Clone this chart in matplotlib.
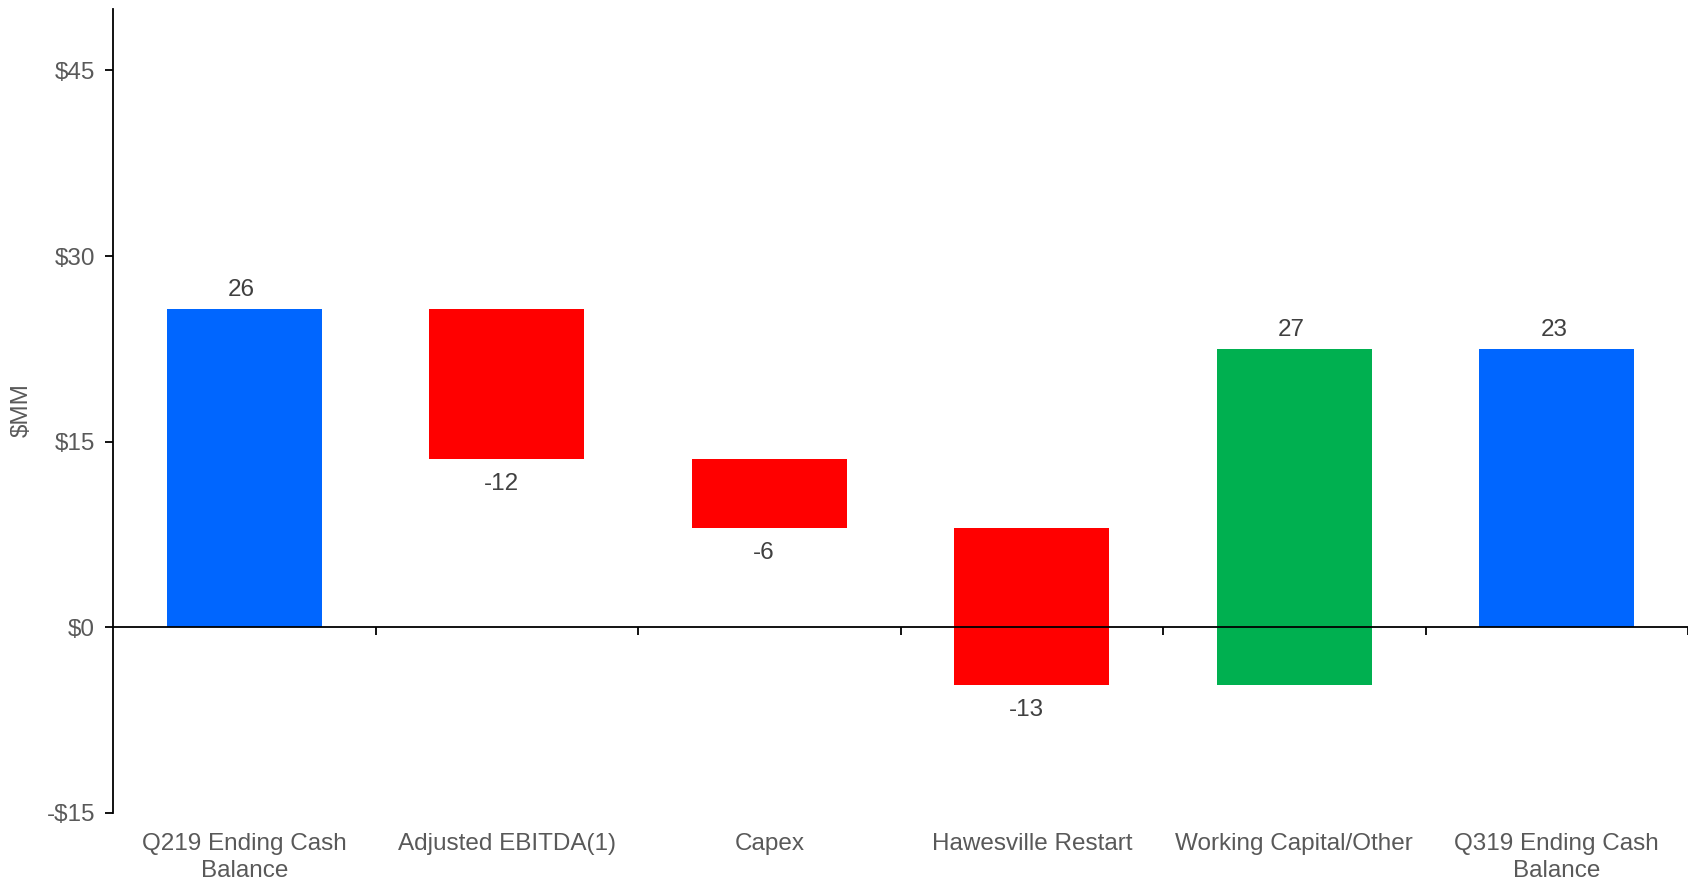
import matplotlib
matplotlib.use("Agg")
import matplotlib.pyplot as plt
import numpy as np

plt.rcParams['font.family'] = ['Liberation Sans', 'DejaVu Sans']

categories = ["Q219 Ending Cash\nBalance", "Adjusted EBITDA(1)", "Capex",
              "Hawesville Restart", "Working Capital/Other", "Q319 Ending Cash\nBalance"]
values = [25.7, -12.1, -5.6, -12.7, 27.2, 22.5]
kinds = ["total", "delta", "delta", "delta", "delta", "total"]
value_labels = ["26", "-12", "-6", "-13", "27", "23"]
yticks = [-15, 0, 15, 30, 45]
ytick_labels = ["-$15", "$0", "$15", "$30", "$45"]

BLUE = "#0066FF"
RED = "#FF0000"
GREEN = "#00B050"
GRAY = "#595959"
DARK = "#404040"
FS = 17.5

fig = plt.figure(figsize=(16.88, 8.82), dpi=100)
ax = fig.add_axes([113/1688, 1 - 812.8/882, 1 - 113/1688, (812.8 - 8.6)/882])

x = np.arange(len(categories))
bottoms, heights, colors = [], [], []
running = 0.0
for v, k in zip(values, kinds):
    if k == "total":
        bottoms.append(0.0)
        heights.append(v)
        colors.append(BLUE)
        running = v
    else:
        bottoms.append(running if v >= 0 else running + v)
        heights.append(abs(v))
        colors.append(GREEN if v >= 0 else RED)
        running += v

ax.bar(x, heights, bottom=bottoms, width=0.59, color=colors, zorder=1)

for i, (v, k, lab) in enumerate(zip(values, kinds, value_labels)):
    top = bottoms[i] + heights[i]
    if k == "total" or v >= 0:
        ax.annotate(lab, xy=(x[i], top), xytext=(-2, 6), textcoords="offset points",
                    ha="center", va="bottom", fontsize=FS, color=DARK)
    else:
        ax.annotate(lab, xy=(x[i], bottoms[i]), xytext=(-4, -10), textcoords="offset points",
                    ha="center", va="top", fontsize=FS, color=DARK)

for i, c in enumerate(categories):
    ax.annotate(c, xy=(x[i], 0), xycoords=("data", "axes fraction"), xytext=(0, -14.5),
                textcoords="offset points", ha="center", va="top", fontsize=FS,
                color=GRAY, multialignment="center", linespacing=1.32)

ax.set_xlim(-0.5, len(categories) - 0.5)
ax.set_ylim(-15, 50)
ax.set_yticks(yticks)
ax.set_yticklabels(ytick_labels)
ax.set_xticks(np.arange(len(categories)) + 0.5)
ax.set_xticklabels([])

for s in ["top", "right"]:
    ax.spines[s].set_visible(False)
ax.spines["bottom"].set_position(("data", 0))
ax.spines["bottom"].set_linewidth(1.3)
ax.spines["left"].set_linewidth(1.3)
ax.spines["bottom"].set_zorder(3)

ax.tick_params(axis="y", direction="out", length=6, width=1.3, pad=7,
               labelsize=FS, labelcolor=GRAY)
ax.tick_params(axis="x", direction="out", length=5.5, width=1.3)

fig.text(21.5/1688, 1 - 410/882, "$MM", rotation=90, ha="center", va="center",
         fontsize=FS, color=GRAY)

fig.savefig("out.png", dpi=100)
